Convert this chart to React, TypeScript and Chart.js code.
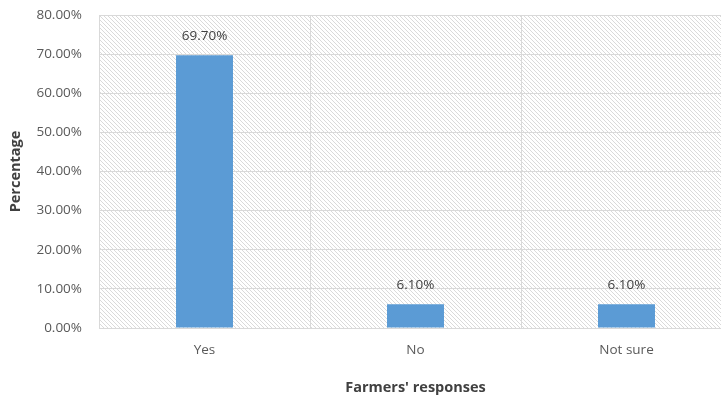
import React, { useEffect, useRef } from "react";
import { Chart, registerables } from "chart.js";

Chart.register(...registerables);

const categories = ["Yes", "No", "Not sure"];
const percentages = [0.697, 0.061, 0.061];
const yTicks = [0, 0.1, 0.2, 0.3, 0.4, 0.5, 0.6, 0.7, 0.8];

const FONT = "'Open Sans', 'Liberation Sans', sans-serif";

function makeHatch(): CanvasPattern | string {
  const c = document.createElement("canvas");
  c.width = 4;
  c.height = 4;
  const g = c.getContext("2d");
  if (!g) return "#fff";
  g.fillStyle = "#ffffff";
  g.fillRect(0, 0, 4, 4);
  g.fillStyle = "#dadada";
  for (let i = 0; i < 4; i++) g.fillRect(i, i, 1, 1);
  const p = g.createPattern(c, "repeat");
  return p || "#fff";
}

export default function App() {
  const ref = useRef<HTMLCanvasElement>(null);
  useEffect(() => {
    if (!ref.current) return;
    const hatch = makeHatch();
    const bgPlugin = {
      id: "hatchBg",
      beforeDraw(chart: any) {
        const { ctx, chartArea } = chart;
        ctx.save();
        ctx.fillStyle = hatch;
        ctx.fillRect(chartArea.left, chartArea.top, chartArea.right - chartArea.left, chartArea.bottom - chartArea.top);
        ctx.restore();
      },
    };
    const labelPlugin = {
      id: "valLabels",
      afterDatasetsDraw(chart: any) {
        const { ctx } = chart;
        const meta = chart.getDatasetMeta(0);
        ctx.save();
        ctx.font = `13.5px ${FONT}`;
        ctx.fillStyle = "#404040";
        ctx.textAlign = "center";
        ctx.textBaseline = "middle";
        meta.data.forEach((el: any, i: number) => {
          const v = percentages[i];
          ctx.fillText((v * 100).toFixed(2) + "%", el.x, el.y - 19);
        });
        ctx.restore();
      },
    };
    const chart = new Chart(ref.current, {
      type: "bar",
      data: {
        labels: categories,
        datasets: [
          {
            data: percentages,
            backgroundColor: "#5b9bd5",
            borderWidth: 0,
            barPercentage: 0.54,
            categoryPercentage: 0.5,
          },
        ],
      },
      options: {
        responsive: false,
        animation: false,
        layout: { padding: { top: 15, right: 8, left: 0, bottom: 0 } },
        plugins: { legend: { display: false }, tooltip: { enabled: false } },
        scales: {
          x: {
            grid: { color: "#d9d9d9", lineWidth: 1, drawTicks: false, offset: true },
            border: { color: "#d9d9d9" },
            ticks: { color: "#595959", font: { family: FONT, size: 13.5 }, padding: 14 },
            title: {
              display: true,
              text: "Farmers' responses",
              color: "#404040",
              font: { family: FONT, size: 14.5, weight: "bold" },
              padding: { top: 0, bottom: 3 },
            },
            afterFit: (s: any) => {
              s.height = 72;
              s.paddingLeft = 0;
              s.paddingRight = 0;
            },
          },
          y: {
            min: 0,
            max: 0.8,
            afterBuildTicks: (s: any) => {
              s.ticks = yTicks.map((v) => ({ value: v }));
            },
            grid: { color: "#d9d9d9", lineWidth: 1, drawTicks: false },
            border: { color: "#d9d9d9" },
            ticks: {
              color: "#595959",
              font: { family: FONT, size: 13.5 },
              padding: 17,
              callback: (v: any) => (Number(v) * 100).toFixed(2) + "%",
            },
            title: {
              display: true,
              text: "Percentage",
              color: "#404040",
              font: { family: FONT, size: 14.5, weight: "bold" },
              padding: { top: 7, bottom: 0 },
            },
            afterFit: (s: any) => {
              s.width = 99;
              s.paddingTop = 0;
              s.paddingBottom = 0;
            },
          },
        },
      },
      plugins: [bgPlugin, labelPlugin],
    });
    return () => chart.destroy();
  }, []);
  return (
    <div style={{ position: "fixed", left: 0, top: 0, width: 721, height: 400, overflow: "hidden", background: "#fff" }}>
      <canvas ref={ref} width={740} height={400} style={{ display: "block", width: 740, height: 400 }} />
    </div>
  );
}
